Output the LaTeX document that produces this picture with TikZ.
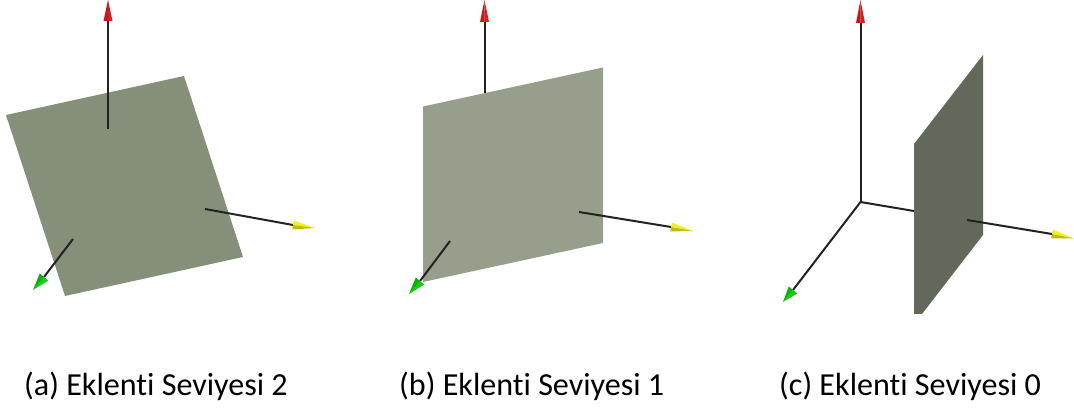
\documentclass[tikz,border=0pt]{standalone}
\usepackage{fontspec}
\setmainfont[Ligatures=NoCommon]{Carlito}
\usetikzlibrary{calc}
\definecolor{planeA}{HTML}{868F7A}
\definecolor{planeB}{HTML}{979E8C}
\definecolor{planeC}{HTML}{63695A}
\definecolor{axisdark}{HTML}{222222}
\definecolor{redL}{HTML}{D81E1E}
\definecolor{redD}{HTML}{C41818}
\definecolor{greenL}{HTML}{10D010}
\definecolor{greenD}{HTML}{08B008}
\definecolor{yellowL}{HTML}{F4F020}
\definecolor{yellowD}{HTML}{C0BC10}
\tikzset{
  axisline/.style={draw=axisdark,line width=2pt},
  caption/.style={anchor=base west,inner sep=0pt,font=\fontsize{32.1}{34}\selectfont,text=black},
}
% #1 base, #2 tip, #3 half width, #4 light colour, #5 dark colour
\newcommand{\conehead}[5]{%
  \fill[#4] ($(#1)!#3pt!90:(#2)$) -- (#2) -- (#1) -- cycle;
  \fill[#5] ($(#1)!#3pt!-90:(#2)$) -- (#2) -- (#1) -- cycle;
}
\begin{document}
\begin{tikzpicture}[x=1pt,y=-1pt]
\useasboundingbox (0,0) rectangle (1074,411);
% panel a
\coordinate (az) at (108,129); \coordinate (azb) at (108,21); \coordinate (azt) at (108,0);
\coordinate (axs) at (205,209); \coordinate (axb) at (293,225); \coordinate (axt) at (315,228);
\coordinate (ays) at (73,239); \coordinate (ayb) at (44,277); \coordinate (ayt) at (33,290);
\fill[planeA] (6,115) -- (184,76) -- (243,257) -- (65,296) -- cycle;
\draw[axisline] (az) -- (azb);
\draw[axisline] (axs) -- (axb);
\draw[axisline] (ays) -- (ayb);
\conehead{azb}{azt}{4.5}{redD}{redL}
\conehead{axb}{axt}{4.5}{yellowL}{yellowD}
\conehead{ayb}{ayt}{5.5}{greenL}{greenD}
\node[caption] (capa) at (24,396) {(a) Eklenti Seviyesi 2};
% panel b
\coordinate (bz) at (484.5,93); \coordinate (bzb) at (484.5,22); \coordinate (bzt) at (484.5,0);
\coordinate (bxs) at (579,212); \coordinate (bxb) at (671,227); \coordinate (bxt) at (693,231);
\coordinate (bys) at (450,241); \coordinate (byb) at (420,281); \coordinate (byt) at (409,294);
\fill[planeB] (423,106.5) -- (603,67.5) -- (603,243) -- (423,282) -- cycle;
\draw[axisline] (bz) -- (bzb);
\draw[axisline] (bxs) -- (bxb);
\draw[axisline] (bys) -- (byb);
\conehead{bzb}{bzt}{4.5}{redD}{redL}
\conehead{bxb}{bxt}{4.5}{yellowL}{yellowD}
\conehead{byb}{byt}{5.5}{greenL}{greenD}
\node[caption] (capb) at (399,396) {(b) Eklenti Seviyesi 1};
% panel c
\coordinate (co) at (860.5,202); \coordinate (czb) at (860.5,23); \coordinate (czt) at (860.5,0);
\coordinate (cxa) at (914,211); \coordinate (cxs) at (967,220); \coordinate (cxb) at (1052,234); \coordinate (cxt) at (1074,238.5);
\coordinate (cyb) at (793,290); \coordinate (cyt) at (783,302);
\draw[axisline] (co) -- (czb);
\draw[axisline] (co) -- (cxa);
\draw[axisline] (co) -- (cyb);
\fill[planeC] (914,144) -- (983,55) -- (983,235) -- (922,314) -- (914,314) -- cycle;
\draw[axisline] (cxs) -- (cxb);
\conehead{czb}{czt}{4.5}{redD}{redL}
\conehead{cxb}{cxt}{4.5}{yellowL}{yellowD}
\conehead{cyb}{cyt}{5.5}{greenL}{greenD}
\node[caption] (capc) at (779,396) {(c) Eklenti Seviyesi 0};
\end{tikzpicture}
\end{document}
